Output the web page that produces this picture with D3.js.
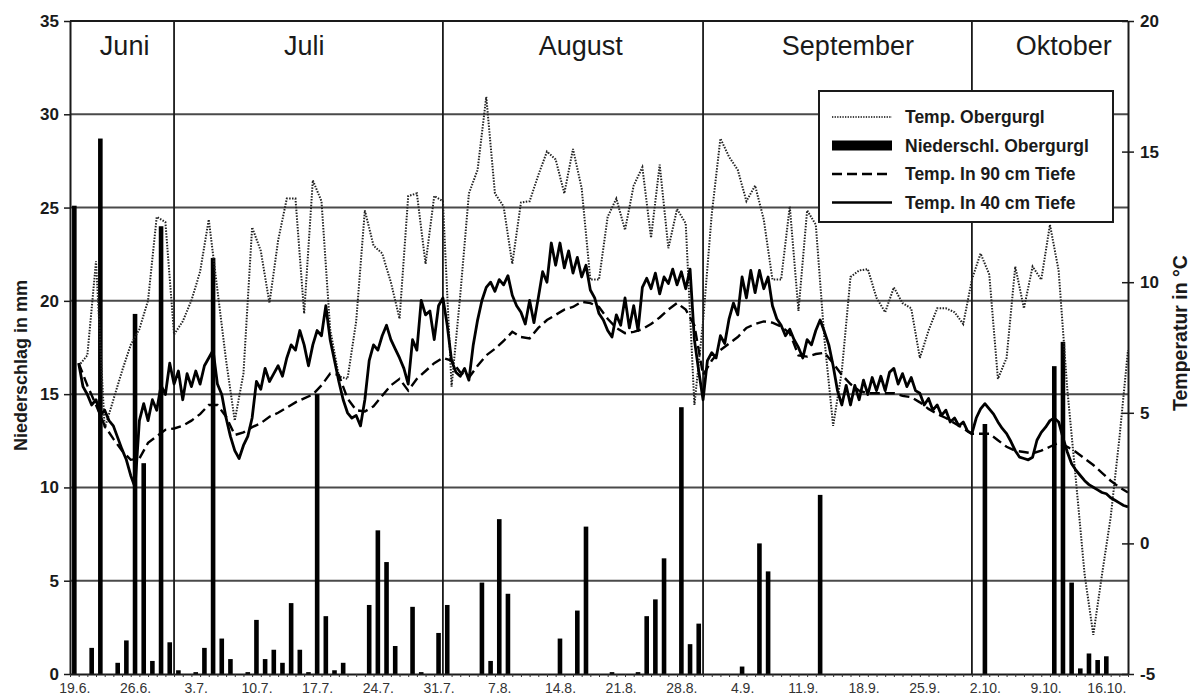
<!DOCTYPE html>
<html>
<head>
<meta charset="utf-8">
<script src="https://cdn.jsdelivr.net/npm/d3@7"></script>
<style>
  body { margin: 0; background: #fff; }
  svg { display: block; font-family: "Liberation Sans", Arial, sans-serif; }
</style>
</head>
<body>
<svg id="chart" width="1190" height="697"></svg>
<script>
// Daily series, 19.6. – 18.10. (122 days)
const dayCount = 122;

const tickLabels = ["19.6.", "26.6.", "3.7.", "10.7.", "17.7.", "24.7.", "31.7.", "7.8.", "14.8.",
  "21.8.", "28.8.", "4.9.", "11.9.", "18.9.", "25.9.", "2.10.", "9.10.", "16.10."];

const months = ["Juni", "Juli", "August", "September", "Oktober"];
const monthLabelDay = [6.3, 27, 58.9, 89.7, 114.6];
const monthBreakDay = [12, 43, 73, 104];

// Niederschlag Obergurgl, mm per day
const precip = [
  25.1, 0, 1.4, 28.7, 0, 0.6, 1.8, 19.3, 11.3, 0.7,
  24.0, 1.7, 0.2, 0, 0.1, 1.4, 22.3, 1.9, 0.8, 0,
  0.1, 2.9, 0.8, 1.3, 0.6, 3.8, 1.3, 0.1, 15.0, 3.1,
  0.2, 0.6, 0, 0, 3.7, 7.7, 6.0, 1.5, 0, 3.6,
  0.1, 0, 2.2, 3.7, 0, 0, 0, 4.9, 0.7, 8.3,
  4.3, 0, 0, 0, 0, 0, 1.9, 0, 3.4, 7.9,
  0, 0, 0.1, 0, 0, 0.1, 3.1, 4.0, 6.2, 0,
  14.3, 1.6, 2.7, 0, 0, 0, 0, 0.4, 0, 7.0,
  5.5, 0, 0, 0, 0, 0, 9.6, 0, 0, 0,
  0, 0, 0, 0, 0, 0, 0, 0, 0, 0,
  0, 0, 0, 0, 0, 13.4, 0, 0, 0, 0,
  0, 0, 0, 16.5, 17.8, 4.9, 0.3, 1.1, 0.75, 0.95,
  0, 0
];

// Lufttemperatur Obergurgl, °C per day
const tempAir = [
  6.8, 7.2, 10.8, 4.4, 5.5, 6.6, 7.6, 8.2, 9.3, 12.5,
  12.3, 8.0, 8.5, 9.3, 10.4, 12.4, 9.7, 7.0, 4.7, 6.5,
  12.1, 11.2, 9.2, 11.6, 13.2, 13.2, 8.8, 13.9, 13.1, 8.2,
  6.4, 6.3, 8.5, 12.75, 11.4, 11.1, 10.0, 8.6, 13.3, 13.4,
  10.7, 13.3, 13.1, 6.0, 9.5, 13.4, 14.3, 17.1, 13.4, 12.9,
  10.7, 13.05, 13.1, 14.1, 15.0, 14.7, 13.4, 15.1, 13.6, 10.1,
  10.1, 12.5, 13.2, 12.0, 13.7, 14.4, 11.7, 14.5, 11.3, 12.8,
  12.25, 5.3, 8.5, 12.6, 15.5, 14.8, 14.3, 13.1, 13.7, 12.4,
  10.1, 10.1, 12.9, 8.9, 12.75, 12.2, 7.8, 4.5, 6.6, 10.2,
  10.45, 10.5, 9.4, 8.85, 9.8, 9.2, 9.0, 7.1, 8.15, 9.0,
  9.0, 8.85, 8.4, 10.1, 11.1, 10.3, 6.3, 7.1, 10.6, 9.0,
  10.6, 10.1, 12.2, 10.45, 5.9, 2.4, -1.2, -3.5, -1.2, 1.0,
  4.0, 7.4
];

// Bodentemperatur in 90 cm Tiefe, °C per day
const temp90 = [
  6.9, 6.05, 5.3, 4.5, 4.0, 3.55, 3.2, 3.25, 3.85, 4.1,
  4.35, 4.4, 4.5, 4.7, 4.95, 5.3, 5.3, 4.85, 4.15, 4.25,
  4.45, 4.6, 4.85, 5.0, 5.2, 5.4, 5.55, 5.7, 6.05, 6.5,
  6.45, 5.55, 5.1, 5.05, 5.25, 5.65, 6.05, 6.3, 5.85, 6.3,
  6.6, 6.9, 7.1, 7.0, 6.55, 6.35, 6.8, 7.2, 7.45, 7.75,
  8.1, 7.9, 7.85, 8.25, 8.55, 8.75, 8.95, 9.05, 9.25, 9.2,
  9.05, 8.6, 8.25, 8.05, 8.1, 8.2, 8.4, 8.65, 8.95, 9.2,
  8.95, 8.35, 6.45, 7.0, 7.4, 7.65, 7.9, 8.25, 8.4, 8.5,
  8.45, 8.3, 8.05, 7.2, 7.15, 7.25, 7.3, 6.9, 6.45, 6.1,
  5.85, 5.75, 5.75, 5.75, 5.75, 5.65, 5.6, 5.4, 5.15, 4.95,
  4.8, 4.6, 4.4, 4.2, 4.2, 4.2, 3.95, 3.7, 3.55, 3.5,
  3.45, 3.55, 3.7, 3.85, 3.7, 3.5, 3.25, 3.0, 2.7, 2.4,
  2.15, 1.95
];

// Bodentemperatur in 40 cm Tiefe, °C, two readings per day
const temp40 = [
  6.9, 6.0, 5.7, 5.3, 5.5, 4.9, 5.1, 4.7, 4.5, 4.05,
  3.6, 3.2, 2.6, 2.15, 4.7, 5.35, 4.7, 5.5, 5.1, 6.05,
  5.7, 6.9, 6.1, 6.6, 5.5, 6.5, 6.0, 6.6, 6.1, 6.8,
  7.1, 7.4, 6.1, 5.7, 4.8, 4.1, 3.55, 3.25, 3.75, 4.1,
  4.8, 6.2, 5.9, 6.7, 6.2, 6.5, 6.8, 6.4, 7.1, 7.6,
  7.4, 8.15, 7.6, 6.8, 7.6, 8.15, 7.95, 9.1, 7.8, 7.0,
  6.2, 5.5, 5.0, 4.8, 4.9, 4.5, 5.5, 7.0, 7.6, 7.4,
  7.95, 8.35, 7.8, 7.45, 7.1, 6.7, 6.1, 7.8, 7.4, 9.3,
  8.75, 8.9, 7.8, 9.1, 9.4, 8.35, 7.0, 6.55, 6.4, 6.7,
  6.25, 7.6, 8.55, 9.3, 9.8, 10.0, 9.65, 10.1, 9.9, 10.25,
  9.5, 9.1, 8.85, 8.4, 9.3, 8.45, 9.4, 10.4, 10.0, 11.5,
  10.65, 11.5, 10.55, 11.2, 10.35, 10.95, 10.2, 10.65, 9.7, 9.4,
  8.8, 8.55, 8.15, 7.9, 8.75, 8.35, 9.4, 8.25, 9.1, 8.15,
  9.8, 10.15, 9.75, 10.35, 9.55, 10.2, 9.95, 10.5, 9.9, 10.4,
  9.75, 10.5, 7.8, 6.6, 5.5, 7.0, 7.3, 7.1, 7.95, 7.65,
  8.6, 9.2, 8.75, 10.2, 9.4, 10.45, 9.6, 10.45, 9.75, 10.2,
  9.1, 8.6, 8.35, 7.95, 8.2, 7.8, 7.5, 7.1, 7.8, 7.6,
  8.15, 8.55, 8.1, 7.6, 6.8, 5.85, 5.3, 6.05, 5.3, 6.05,
  5.5, 6.25, 5.7, 6.35, 5.85, 6.4, 5.85, 6.55, 6.7, 6.1,
  6.5, 6.0, 6.35, 5.85, 5.75, 5.3, 5.55, 5.1, 5.3, 4.9,
  5.1, 4.65, 4.8, 4.5, 4.65, 4.3, 4.2, 4.8, 5.15, 5.35,
  5.15, 4.95, 4.65, 4.4, 4.2, 3.9, 3.55, 3.3, 3.25, 3.2,
  3.3, 3.95, 4.25, 4.45, 4.7, 4.8, 4.65, 4.05, 3.5, 3.05,
  2.8, 2.6, 2.4, 2.25, 2.15, 2.05, 1.95, 1.9, 1.75, 1.65,
  1.55, 1.45, 1.4
];

const legendItems = [
  { label: "Temp. Obergurgl", kind: "dotted" },
  { label: "Niederschl. Obergurgl", kind: "bar" },
  { label: "Temp. In 90 cm Tiefe", kind: "dashed" },
  { label: "Temp. In 40 cm Tiefe", kind: "solid" }
];

const precipTicks = [0, 5, 10, 15, 20, 25, 30, 35];
const tempTicks = [-5, 0, 5, 10, 15, 20];

// ---------------------------------------------------------------
const svg = d3.select("#chart");
const plotLeft = 70, plotRight = 1128, plotTop = 21, plotBottom = 674;

const x = d3.scaleLinear().domain([0, dayCount]).range([plotLeft, plotRight]);
const yP = d3.scaleLinear().domain([0, 35]).range([plotBottom, plotTop]);
const yT = d3.scaleLinear().domain([-5, 20]).range([plotBottom, plotTop]);

const ink = "#1a1a1a";

// horizontal grid
svg.append("g")
  .selectAll("line")
  .data(precipTicks.filter(v => v > 0 && v < 35))
  .join("line")
  .attr("x1", plotLeft).attr("x2", plotRight)
  .attr("y1", d => yP(d)).attr("y2", d => yP(d))
  .attr("stroke", "#4a4a4a").attr("stroke-width", 2);

// top frame line
svg.append("line")
  .attr("x1", plotLeft).attr("x2", plotRight)
  .attr("y1", yP(35)).attr("y2", yP(35))
  .attr("stroke", ink).attr("stroke-width", 2);

// month separators
svg.append("g")
  .selectAll("line")
  .data(monthBreakDay)
  .join("line")
  .attr("x1", d => x(d)).attr("x2", d => x(d))
  .attr("y1", plotTop).attr("y2", plotBottom)
  .attr("stroke", ink).attr("stroke-width", 1.8);

// month names
svg.append("g")
  .selectAll("text")
  .data(months)
  .join("text")
  .attr("x", (d, i) => x(monthLabelDay[i]))
  .attr("y", 55)
  .attr("text-anchor", "middle")
  .attr("font-size", 27)
  .attr("fill", ink)
  .text(d => d);

// precipitation bars
const barW = 4.6;
svg.append("g")
  .selectAll("rect")
  .data(precip.map((v, i) => ({ v, i })).filter(d => d.v > 0))
  .join("rect")
  .attr("x", d => x(d.i + 0.5) - barW / 2)
  .attr("width", barW)
  .attr("y", d => yP(d.v))
  .attr("height", d => yP(0) - yP(d.v))
  .attr("fill", "#000");

// temperature lines
const lineDaily = d3.line().x((d, i) => x(i + 1)).y(d => yT(d));
const lineHalfDaily = d3.line().x((d, i) => x(1 + i / 2)).y(d => yT(d));

svg.append("path")
  .datum(tempAir)
  .attr("d", lineDaily)
  .attr("fill", "none")
  .attr("stroke", "#222")
  .attr("stroke-width", 2)
  .attr("stroke-dasharray", "1.5 1.4");

svg.append("path")
  .datum(temp90)
  .attr("d", lineDaily)
  .attr("fill", "none")
  .attr("stroke", "#000")
  .attr("stroke-width", 2.4)
  .attr("stroke-dasharray", "10 5");

svg.append("path")
  .datum(temp40)
  .attr("d", lineHalfDaily)
  .attr("fill", "none")
  .attr("stroke", "#000")
  .attr("stroke-width", 2.8)
  .attr("stroke-linejoin", "round");

// left axis (Niederschlag)
const axL = svg.append("g")
  .attr("transform", `translate(${plotLeft},0)`)
  .call(d3.axisLeft(yP).tickValues(precipTicks).tickSize(6).tickSizeOuter(0).tickPadding(5));
axL.select(".domain").attr("stroke", ink).attr("stroke-width", 2);
axL.selectAll(".tick line").attr("stroke", ink).attr("stroke-width", 1.5);
axL.selectAll(".tick text")
  .attr("font-size", 17).attr("font-weight", "bold").attr("fill", ink)
  .attr("font-family", "Liberation Sans, Arial, sans-serif");

// right axis (Temperatur)
const axR = svg.append("g")
  .attr("transform", `translate(${plotRight},0)`)
  .call(d3.axisRight(yT).tickValues(tempTicks).tickSize(6).tickSizeOuter(0).tickPadding(6)
    .tickFormat(d => d));
axR.select(".domain").attr("stroke", ink).attr("stroke-width", 2);
axR.selectAll(".tick line").attr("x1", -6).attr("stroke", ink).attr("stroke-width", 1.5);
axR.selectAll(".tick text")
  .attr("font-size", 17).attr("font-weight", "bold").attr("fill", ink)
  .attr("font-family", "Liberation Sans, Arial, sans-serif");

// bottom axis: daily ticks
const axB = svg.append("g")
  .attr("transform", `translate(0,${plotBottom})`)
  .call(d3.axisBottom(x).tickValues(d3.range(0, dayCount + 1)).tickSize(3).tickSizeOuter(0).tickFormat(""));
axB.select(".domain").attr("stroke", ink).attr("stroke-width", 2);
axB.selectAll(".tick line").attr("stroke", "#333").attr("stroke-width", 1);

// weekly date labels
const axW = svg.append("g")
  .attr("transform", `translate(0,${plotBottom})`)
  .call(d3.axisBottom(x)
    .tickValues(tickLabels.map((d, i) => i * 7 + 0.5))
    .tickSize(0).tickPadding(9)
    .tickFormat((d, i) => tickLabels[i]));
axW.select(".domain").remove();
axW.selectAll(".tick text")
  .attr("font-size", 14).attr("fill", "#333")
  .attr("font-family", "Liberation Sans, Arial, sans-serif");

// axis titles
svg.append("text")
  .attr("transform", `translate(27,${(plotTop + plotBottom) / 2 + 18}) rotate(-90)`)
  .attr("text-anchor", "middle")
  .attr("font-size", 18).attr("font-weight", "bold").attr("fill", ink)
  .text("Niederschlag in mm");

svg.append("text")
  .attr("transform", "translate(1187,333) rotate(-90)")
  .attr("text-anchor", "middle")
  .attr("font-size", 19.5).attr("font-weight", "bold").attr("fill", ink)
  .text("Temperatur in °C");

// legend
const lg = svg.append("g").attr("transform", "translate(819,91)");
lg.append("rect")
  .attr("width", 294).attr("height", 131)
  .attr("fill", "#fff").attr("stroke", ink).attr("stroke-width", 2);

const row = lg.selectAll("g.item")
  .data(legendItems)
  .join("g")
  .attr("class", "item")
  .attr("transform", (d, i) => `translate(0,${26 + i * 28.5})`);

row.each(function (d) {
  const g = d3.select(this);
  if (d.kind === "bar") {
    g.append("rect").attr("x", 13).attr("y", -5).attr("width", 60).attr("height", 10).attr("fill", "#000");
  } else {
    g.append("line")
      .attr("x1", 13).attr("x2", 73).attr("y1", 0).attr("y2", 0)
      .attr("stroke", d.kind === "dotted" ? "#444" : "#000")
      .attr("stroke-width", d.kind === "dotted" ? 1.8 : 2.5)
      .attr("stroke-dasharray", d.kind === "dotted" ? "1.3 1.3" : d.kind === "dashed" ? "10 5" : null);
  }
  g.append("text")
    .attr("x", 86).attr("y", 6)
    .attr("font-size", 17.5).attr("font-weight", "bold").attr("fill", ink)
    .text(d.label);
});
</script>
</body>
</html>
